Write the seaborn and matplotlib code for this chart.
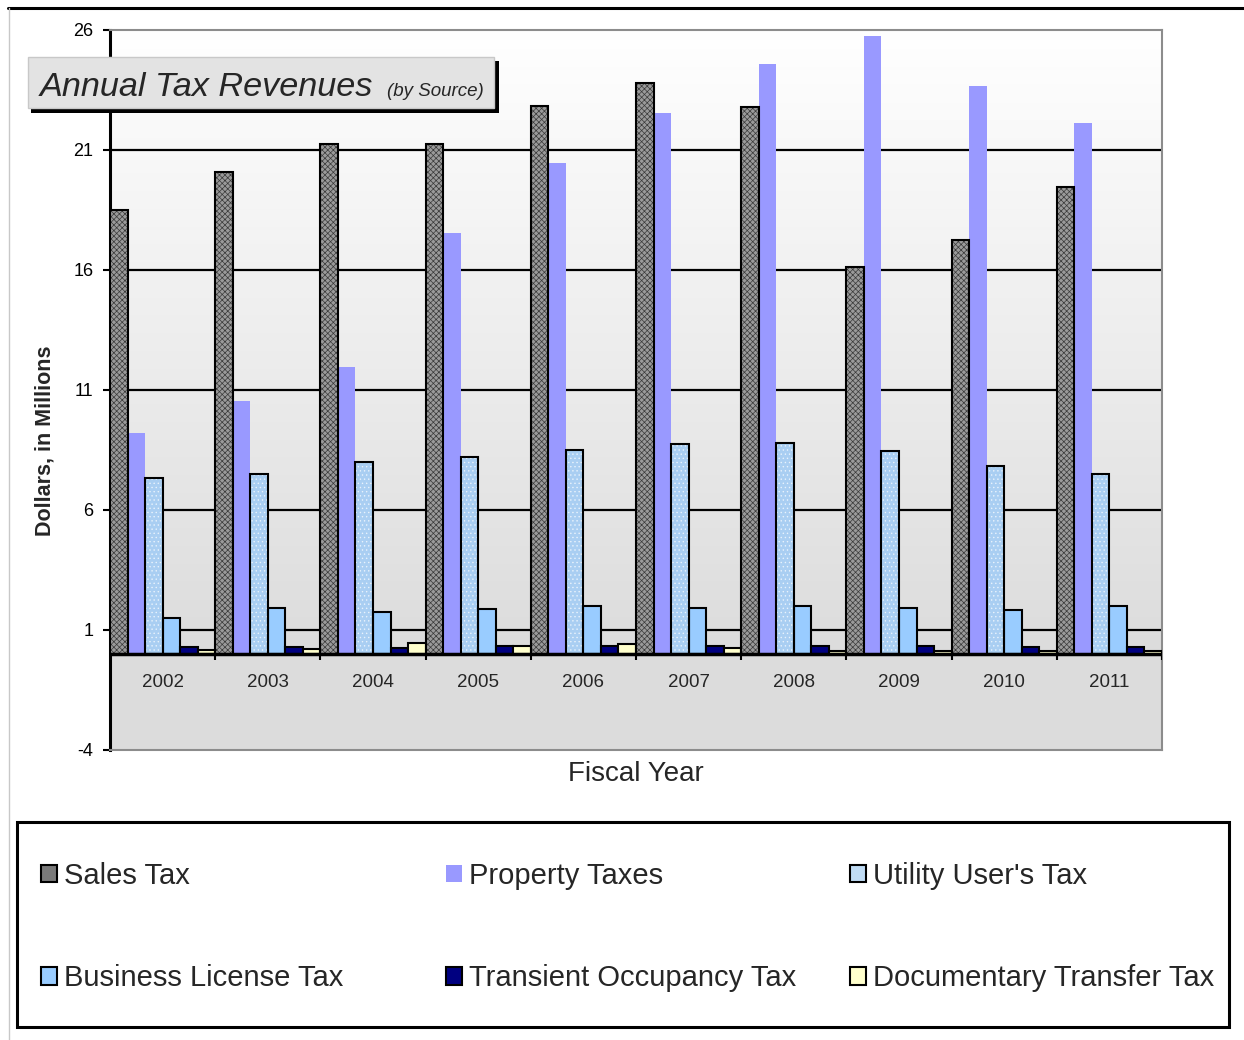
import numpy as np
import pandas as pd
import matplotlib
matplotlib.use('Agg')
import matplotlib.pyplot as plt
import seaborn as sns
from matplotlib.patches import Rectangle, Patch
from matplotlib.lines import Line2D
from matplotlib.colors import LinearSegmentedColormap

# 데이터 (그림에서 읽은 값, 단위: 백만 달러)
years = ['2002', '2003', '2004', '2005', '2006', '2007', '2008', '2009', '2010', '2011']
sales_tax = [18.5, 20.07, 21.27, 21.27, 22.82, 23.78, 22.79, 16.11, 17.26, 19.47]
property_taxes = [9.19, 10.56, 11.95, 17.56, 20.45, 22.54, 24.58, 25.74, 23.65, 22.11]
utility_tax = [7.35, 7.52, 8.02, 8.2, 8.52, 8.77, 8.81, 8.44, 7.85, 7.48]
business_tax = [1.51, 1.9, 1.74, 1.88, 2.01, 1.9, 2.0, 1.9, 1.83, 2.0]
transient_tax = [0.28, 0.28, 0.24, 0.33, 0.33, 0.33, 0.33, 0.33, 0.28, 0.28]
documentary_tax = [0.17, 0.2, 0.47, 0.33, 0.42, 0.24, 0.13, 0.12, 0.12, 0.12]

sources = ['Sales Tax', 'Property Taxes', "Utility User's Tax",
           'Business License Tax', 'Transient Occupancy Tax', 'Documentary Transfer Tax']
yticks = [-4, 1, 6, 11, 16, 21, 26]

colors = {'Sales Tax': '#9a9a9a', 'Property Taxes': '#9999ff', "Utility User's Tax": '#a9cef2',
          'Business License Tax': '#99ccff', 'Transient Occupancy Tax': '#000080',
          'Documentary Transfer Tax': '#ffffcc'}

tax = pd.DataFrame({'Sales Tax': sales_tax, 'Property Taxes': property_taxes,
                    "Utility User's Tax": utility_tax, 'Business License Tax': business_tax,
                    'Transient Occupancy Tax': transient_tax,
                    'Documentary Transfer Tax': documentary_tax}, index=years)
tax = tax.reset_index(names='year').melt(id_vars='year', var_name='source', value_name='value')

sns.set_style('white')
plt.rcParams['font.family'] = ['Liberation Sans', 'DejaVu Sans']
plt.rcParams['hatch.linewidth'] = 0.5
plt.rcParams['axes.unicode_minus'] = False

W, H = 1244, 1040
def fx(px):
    return px / W
def fy(py):
    return 1 - py / H

fig = plt.figure(figsize=(W / 100, H / 100), dpi=100)
ax = fig.add_axes([fx(110), fy(750), (1162 - 110) / W, (750 - 30) / H])

sns.barplot(data=tax, x='year', y='value', hue='source', hue_order=sources, palette=colors,
            width=1.0, gap=0, saturation=1, errorbar=None, legend=False, ax=ax,
            linewidth=1.5, edgecolor='black', zorder=3)

# 배경 (위쪽 흰색 -> 아래쪽 회색), 0 아래 바닥
n = len(years)
grad = LinearSegmentedColormap.from_list('bg', ['#dcdcdc', '#ffffff'])
ax.imshow(np.linspace(1, 0, 256).reshape(-1, 1), cmap=grad, extent=(-0.5, n - 0.5, 0, 26),
          aspect='auto', zorder=0)
ax.axhspan(-4, 0, color='#dcdcdc', zorder=0)
for v in yticks[1:-1]:
    ax.axhline(v, color='black', lw=1.6, zorder=1)

# 막대 스타일
for name, cont in zip(sources, ax.containers):
    for p in cont:
        if name == 'Sales Tax':
            p.set_hatch('xxxxxx')
            p.set_edgecolor('#3a3a3a')
            p.set_linewidth(0)
        elif name == "Utility User's Tax":
            p.set_hatch('....')
            p.set_edgecolor('#e8f2fc')
            p.set_linewidth(0)
        elif name == 'Property Taxes':
            p.set_edgecolor('none')
            p.set_linewidth(0)
        if name in ('Sales Tax', "Utility User's Tax"):
            ax.add_patch(Rectangle(p.get_xy(), p.get_width(), p.get_height(), fill=False,
                                   ec='black', lw=1.5, zorder=3.5))

ax.axhline(0, color='black', lw=2.5, zorder=5)
ax.vlines(np.arange(n + 1) - 0.5, -0.27, 0, colors='black', lw=1.5, zorder=5)
for i, y in enumerate(years):
    ax.text(i, -1.2, y, ha='center', va='center', fontsize=13.5)

ax.set_xlim(-0.5, n - 0.5)
ax.set_ylim(-4, 26)
ax.set_yticks(yticks)
ax.tick_params(axis='y', left=True, length=5, width=1.5, pad=7, labelsize=13, colors='black')
ax.tick_params(axis='x', bottom=False, labelbottom=False)
for s in ['top', 'right', 'bottom']:
    ax.spines[s].set_color('#8c8c8c')
    ax.spines[s].set_linewidth(1.5)
ax.spines['left'].set_color('black')
ax.spines['left'].set_linewidth(2.2)

ax.set_ylabel('Dollars, in Millions', fontsize=15.5, fontweight='bold')
ax.yaxis.set_label_coords(-0.052, 0.43)
ax.set_xlabel('Fiscal Year', fontsize=20, labelpad=8)

# 제목 상자
fig.add_artist(Rectangle((fx(31), fy(113)), (499 - 31) / W, (113 - 61) / H,
                         facecolor='black', edgecolor='none', transform=fig.transFigure))
fig.add_artist(Rectangle((fx(28), fy(108)), (494 - 28) / W, (108 - 57) / H,
                         facecolor='#e3e3e3', edgecolor='#c8c8c8', lw=1, transform=fig.transFigure))
fig.text(fx(40), fy(96), 'Annual Tax Revenues', fontsize=24.7, style='italic', va='baseline', zorder=5)
fig.text(fx(387), fy(96), '(by Source)', fontsize=13.5, style='italic', va='baseline', zorder=5)

# 범례
handle_style = {'Sales Tax': dict(facecolor='#7a7a7a', edgecolor='black', lw=1.5),
                'Property Taxes': dict(facecolor='#9999ff', edgecolor='none'),
                "Utility User's Tax": dict(facecolor='#c0dcf5', edgecolor='black', lw=1.5),
                'Business License Tax': dict(facecolor='#99ccff', edgecolor='black', lw=1.5),
                'Transient Occupancy Tax': dict(facecolor='#000080', edgecolor='black', lw=1.5),
                'Documentary Transfer Tax': dict(facecolor='#ffffcc', edgecolor='black', lw=1.5)}
fig.add_artist(Rectangle((fx(17), fy(1027)), (1229 - 17) / W, (1027 - 822) / H, fill=False,
                         ec='black', lw=2.2, transform=fig.transFigure))
col_x = [41, 446, 850]
for c in range(3):
    names = [sources[c], sources[c + 3]]
    hs = [Patch(**handle_style[nm]) for nm in names]
    fig.legend(hs, names, loc='upper left', bbox_to_anchor=(fx(col_x[c]), fy(862)),
               frameon=False, borderpad=0, borderaxespad=0, fontsize=21, handlelength=0.55,
               handleheight=0.55, handletextpad=0.24, labelspacing=2.55)

# 바깥 테두리
fig.add_artist(Line2D([fx(8), 1], [fy(8), fy(8)], color='black', lw=2.2, transform=fig.transFigure))
fig.add_artist(Line2D([fx(9), fx(9)], [fy(8), 0], color='#c8c8c8', lw=1, transform=fig.transFigure))

fig.savefig('out.png', dpi=100)
